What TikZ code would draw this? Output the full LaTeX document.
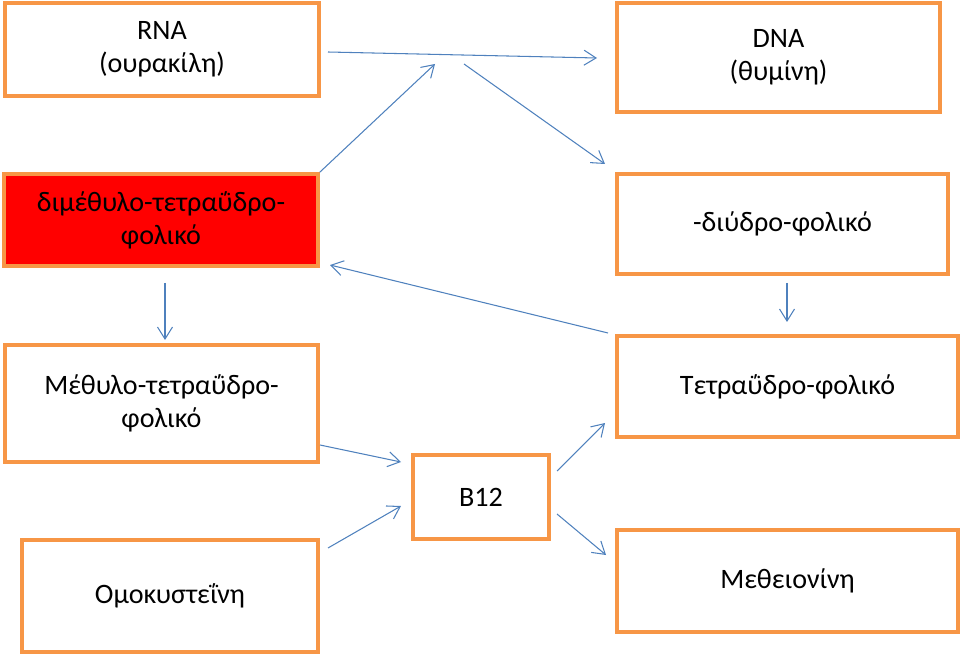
\documentclass[tikz,border=0pt]{standalone}
\usepackage{fontspec}
\setmainfont{Carlito}
\usepackage{tikz}
\usetikzlibrary{arrows.meta}
\definecolor{boxorange}{HTML}{F79646}
\definecolor{linkblue}{HTML}{4F81BD}
\definecolor{alertred}{HTML}{FF0000}

\begin{document}
\begin{tikzpicture}[x=0.02cm, y=-0.02cm,
    stepbox/.style={draw=boxorange, line width=2pt, fill=white, align=center,
          inner sep=0pt, font=\fontsize{16}{18.7}\selectfont},
    link/.style={draw=linkblue, line width=0.6pt, -{Straight Barb[length=2.4mm, width=3mm]}}]
    \useasboundingbox (0,0) rectangle (960,658);

    % boxes
    \node[stepbox, minimum width=6.28cm, minimum height=1.86cm] (rna) at (162,49.5) {RNA\\(ουρακίλη)};
    \node[stepbox, minimum width=6.46cm, minimum height=2.18cm] (dna) at (778.5,57.5) {DNA\\(θυμίνη)};
    \node[stepbox, fill=alertred, minimum width=6.28cm, minimum height=1.84cm] (dimethyl) at (161,220) {διμέθυλο-τετραΰδρο-\\φολικό};
    \node[stepbox, minimum width=6.62cm, minimum height=2.0cm] (dihydro) at (782.5,224) {-διύδρο-φολικό};
    \node[stepbox, minimum width=6.26cm, minimum height=2.34cm] (methyl) at (161.5,403.5) {Μέθυλο-τετραΰδρο-\\φολικό};
    \node[stepbox, minimum width=6.82cm, minimum height=2.02cm] (tetra) at (787.5,386.5) {Τετραΰδρο-φολικό};
    \node[stepbox, minimum width=2.72cm, minimum height=1.68cm] (b12) at (481,497) {B12};
    \node[stepbox, minimum width=5.92cm, minimum height=2.24cm] (homo) at (170,596) {Ομοκυστεΐνη};
    \node[stepbox, minimum width=6.82cm, minimum height=2.04cm] (methio) at (787.5,581) {Μεθειονίνη};

    % free ends of the links
    \coordinate (rna-out) at (328,52);
    \coordinate (dna-in) at (597,58);
    \coordinate (top-tip) at (435,64);
    \coordinate (top-out) at (464,64);
    \coordinate (dihydro-in) at (605,164);
    \coordinate (dihydro-out) at (608,333);
    \coordinate (dimethyl-in) at (330,265);
    \coordinate (dimethyl-out) at (165,283);
    \coordinate (methyl-in) at (165,340);
    \coordinate (dihydro-down) at (787,283);
    \coordinate (tetra-in) at (787,322);
    \coordinate (methyl-out) at (320,445);
    \coordinate (b12-in-a) at (401,462);
    \coordinate (homo-out) at (328,548);
    \coordinate (b12-in-b) at (401,506);
    \coordinate (b12-out-a) at (557,471);
    \coordinate (tetra-in-b) at (605,423);
    \coordinate (b12-out-b) at (557,514);
    \coordinate (methio-in) at (606,555);

    % links
    \draw[link] (rna-out) -- (dna-in);
    \draw[link] (dimethyl.north east) -- (top-tip);
    \draw[link] (top-out) -- (dihydro-in);
    \draw[link] (dihydro-out) -- (dimethyl-in);
    \draw[link] (dimethyl-out) -- (methyl-in);
    \draw[link] (dihydro-down) -- (tetra-in);
    \draw[link] (methyl-out) -- (b12-in-a);
    \draw[link] (homo-out) -- (b12-in-b);
    \draw[link] (b12-out-a) -- (tetra-in-b);
    \draw[link] (b12-out-b) -- (methio-in);
  \end{tikzpicture}
\end{document}
